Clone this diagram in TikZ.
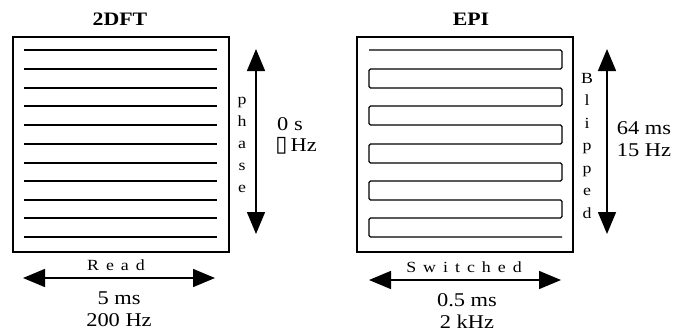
\documentclass[tikz,border=0pt]{standalone}
\usepackage{fontspec}
\setmainfont[FakeStretch=1.15]{Liberation Serif}
\newfontfamily\symfont{DejaVu Sans}
\usetikzlibrary{arrows.meta}
\newcommand\lsp{\hspace{7pt}}
\begin{document}
\begin{tikzpicture}[x=1pt,y=-1pt,
  big/.style={font=\fontsize{19.5}{22}\selectfont, inner sep=0pt, align=center},
  ttl/.style={font=\fontsize{19}{21}\selectfont\bfseries, inner sep=0pt},
  small/.style={font=\fontsize{15.5}{17}\selectfont, inner sep=0pt},
  arr/.style={line width=1.5pt, {Triangle[width=18pt,length=22pt]}-{Triangle[width=18pt,length=22pt]}},
  box/.style={draw, line width=1.5pt, inner sep=0pt, outer sep=0pt, anchor=north west, minimum width=216pt, minimum height=215pt},
  rl/.style={line width=1.3pt}]
\useasboundingbox (0,0) rectangle (674,335);
% boxes
\node[box] (A) at (13,37) {};
\node[box] (B) at (357,37) {};
% titles
\node[ttl, anchor=base] (tA) at (120,25) {2DFT};
\node[ttl, anchor=base] (tB) at (471,25) {EPI};
% 2DFT lines
\foreach \y in {50,69,88,106,125,144,163,181,200,218,237} \draw[rl] (24,\y) -- (217,\y);
% EPI zigzag
\draw[rl, rounded corners=1.5pt] (369,50) -- (562,50) -- (562,69) -- (369,69) -- (369,88)
  -- (562,88) -- (562,106) -- (369,106) -- (369,125)
  -- (562,125) -- (562,144) -- (369,144) -- (369,163)
  -- (562,163) -- (562,181) -- (369,181) -- (369,200)
  -- (562,200) -- (562,218) -- (369,218) -- (369,237) -- (562,237);
% phase arrow and letters
\coordinate (pt) at (256,49);
\coordinate (pb) at (256,234);
\draw[arr] (pt) -- (pb);
\foreach \ch [count=\i] in {p,h,a,s,e} \node[small, anchor=base] (ph\i) at (242,{104+22*(\i-1)}) {\ch};
\node[big, anchor=base] (zs) at (290,130) {0 s};
\node[big, anchor=base] (zh) at (296,151) {{\symfont\fontsize{22}{22}\selectfont ▯}\,Hz};
% blipped arrow and letters
\coordinate (bt) at (607,49);
\coordinate (bb) at (607,234);
\draw[arr] (bt) -- (bb);
\foreach \ch [count=\i] in {B,l,i,p,p,e,d} \node[small, anchor=base] (bl\i) at (587,{83+22.5*(\i-1)}) {\ch};
\node[big, anchor=base] (ms64) at (644,134) {64 ms};
\node[big, anchor=base] (hz15) at (644,156) {15 Hz};
% read arrow
\coordinate (rl) at (23,278);
\coordinate (rr) at (215,278);
\draw[arr] (rl) -- (rr);
\node[small, anchor=base] (rd) at (116,270) {R\lsp e\lsp a\lsp d};
\node[big, anchor=base] (ms5) at (119,304) {5 ms};
\node[big, anchor=base] (hz200) at (119,326) {200 Hz};
% switched arrow
\coordinate (sl) at (369,280);
\coordinate (sr) at (561,280);
\draw[arr] (sl) -- (sr);
\node[small, anchor=base] (sw) at (464,272) {S\lsp w\lsp i\lsp t\lsp c\lsp h\lsp e\lsp d};
\node[big, anchor=base] (ms05) at (467,306) {0.5 ms};
\node[big, anchor=base] (khz2) at (467,328) {2 kHz};
\end{tikzpicture}
\end{document}
